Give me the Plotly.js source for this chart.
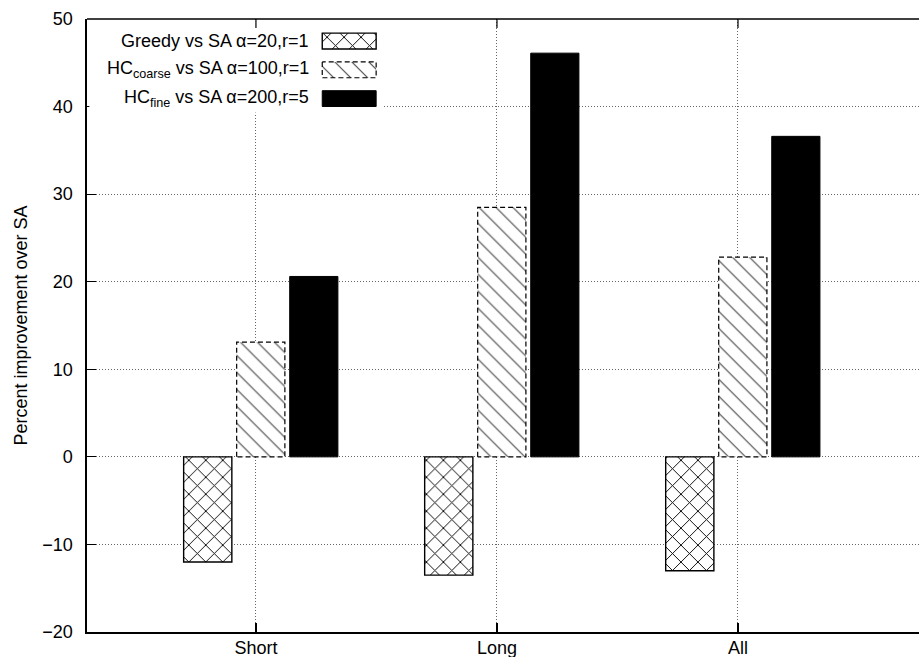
<!DOCTYPE html>
<html>
<head>
<meta charset="utf-8">
<script src="https://cdn.plot.ly/plotly-3.0.1.min.js"></script>
<style>html,body{margin:0;padding:0;background:#fff;overflow:hidden;}</style>
</head>
<body>
<div id="chart" style="width:919px;height:657px;"></div>
<script>
// ---- data ----
const categories = ["Short", "Long", "All"];
const greedyVals = [-12.0, -13.5, -13.0];
const coarseVals = [13.1, 28.5, 22.8];
const fineVals = [20.6, 46.1, 36.6];
const seriesNames = [
  "Greedy vs SA \u03b1=20,r=1",
  "HC<sub>coarse</sub> vs SA \u03b1=100,r=1",
  "HC<sub>fine</sub> vs SA \u03b1=200,r=5"
];
const yTicks = [-20, -10, 0, 10, 20, 30, 40, 50];

// ---- layout helpers ----
const FONT = {family: "Liberation Sans, Arial, sans-serif", size: 18, color: "#000"};
const BW = 0.2;
const offsets = [-0.2, 0.02, 0.24];
const idx = categories.map((c, i) => i);

function outline(xs, y0s, y1s, hw) {
  const X = [], Y = [];
  xs.forEach((x, i) => {
    X.push(x - hw, x - hw, x + hw, x + hw, x - hw, null);
    Y.push(y0s[i], y1s[i], y1s[i], y0s[i], y0s[i], null);
  });
  return {X, Y};
}

const xG = idx.map(i => i + offsets[0]);
const xC = idx.map(i => i + offsets[1]);
const xF = idx.map(i => i + offsets[2]);

const greedyMarker = {color: "#fff", line: {color: "#000", width: 1.4},
  pattern: {shape: "x", fgcolor: "#000", bgcolor: "#fff", size: 12, solidity: 0.15}};
const coarseMarker = {color: "#fff", line: {color: "#fff", width: 0},
  pattern: {shape: "\\", fgcolor: "#444", bgcolor: "#fff", size: 12, solidity: 0.09}};
const fineMarker = {color: "#000", line: {color: "#000", width: 1}};
const dashLine = {color: "#000", width: 1.2, dash: "5px,3px"};

const traces = [];
traces.push({type: "bar", x: xG, y: greedyVals, width: BW, marker: greedyMarker,
  hoverinfo: "skip", showlegend: false});
traces.push({type: "bar", x: xC, y: coarseVals, width: BW, marker: coarseMarker,
  hoverinfo: "skip", showlegend: false});
const oc = outline(xC, coarseVals.map(() => 0), coarseVals, BW / 2);
traces.push({type: "scatter", mode: "lines", x: oc.X, y: oc.Y, line: dashLine,
  hoverinfo: "skip", showlegend: false});
traces.push({type: "bar", x: xF, y: fineVals, width: BW, marker: fineMarker,
  hoverinfo: "skip", showlegend: false});

// ---- key (legend) drawn on its own small axes, over a white box ----
const legRows = [0, 1, 2];
const SW = 0.55;                  // swatch height (row units)
const SX0 = 0.7925, SX1 = 0.976;  // swatch span (key-box units)
const KEY_Y = [2.483, -0.724];    // key-box vertical extent (row units)
traces.push({type: "bar", orientation: "h", xaxis: "x3", yaxis: "y3",
  x: [1], base: 0, y: [(KEY_Y[0] + KEY_Y[1]) / 2], width: KEY_Y[0] - KEY_Y[1],
  marker: {color: "#fff", line: {width: 0}}, hoverinfo: "skip", showlegend: false});
const swMid = (SX0 + SX1) / 2, swHalf = (SX1 - SX0) / 2;
traces.push({type: "bar", orientation: "h", x: [SX1 - SX0], base: SX0, y: [legRows[0]], width: SW,
  xaxis: "x3", yaxis: "y3", marker: greedyMarker, hoverinfo: "skip", showlegend: false});
traces.push({type: "bar", orientation: "h", x: [SX1 - SX0], base: SX0, y: [legRows[1]], width: SW,
  xaxis: "x3", yaxis: "y3", marker: coarseMarker, hoverinfo: "skip", showlegend: false});
const ol = outline([swMid], [legRows[1] - SW / 2], [legRows[1] + SW / 2], swHalf);
traces.push({type: "scatter", mode: "lines", xaxis: "x3", yaxis: "y3", x: ol.X, y: ol.Y,
  line: dashLine, hoverinfo: "skip", showlegend: false});
traces.push({type: "bar", orientation: "h", x: [SX1 - SX0], base: SX0, y: [legRows[2]], width: SW,
  xaxis: "x3", yaxis: "y3", marker: fineMarker, hoverinfo: "skip", showlegend: false});

const keyLabels = legRows.map(r => ({
  xref: "x3", yref: "y3", x: SX0 - 0.04, y: r, xanchor: "right", yanchor: "middle",
  text: seriesNames[r], showarrow: false, font: FONT
}));

// mirrored top ticks at the category positions
const topTicks = idx.map(i => ({type: "line", xref: "x", yref: "y domain",
  x0: i, x1: i, y0: 1, y1: 1 - 9 / 612.7, line: {color: "#000", width: 1.2}}));

const GRID = {showgrid: true, gridcolor: "#666", griddash: "1px,2px", gridwidth: 1};

const layout = {
  width: 919, height: 657,
  margin: {l: 87, r: 0, t: 19, b: 25, pad: 0},
  paper_bgcolor: "#fff", plot_bgcolor: "#fff",
  font: FONT,
  showlegend: false,
  barmode: "overlay",
  xaxis: Object.assign({
    range: [-0.701, 2.751], tickvals: idx, ticktext: categories,
    ticks: "inside", ticklen: 9, tickcolor: "#000", tickwidth: 1.2,
    showline: true, linecolor: "#000", linewidth: 1.6,
    zeroline: false, automargin: false, ticklabelstandoff: -1,
    tickfont: FONT, fixedrange: true
  }, GRID),
  yaxis: Object.assign({
    range: [-20, 50], tickvals: yTicks,
    ticks: "inside", ticklen: 9, tickcolor: "#000", tickwidth: 1.2,
    showline: true, linecolor: "#000", linewidth: 1.6,
    zeroline: false, automargin: false, ticklabelstandoff: 9,
    tickfont: FONT, fixedrange: true,
    title: {text: "Percent improvement over SA", font: FONT, standoff: 10}
  }, GRID),
  xaxis3: {
    domain: [0.003, 0.356], range: [0, 1], anchor: "y3",
    visible: false, fixedrange: true
  },
  yaxis3: {
    domain: [0.8475, 0.998], range: KEY_Y, anchor: "x3",
    visible: false, fixedrange: true
  },
  annotations: keyLabels,
  shapes: [
    {type: "line", xref: "paper", yref: "paper", x0: 0, x1: 1, y0: 1, y1: 1,
      line: {color: "#000", width: 1.6}}
  ].concat(topTicks)
};

Plotly.newPlot("chart", traces, layout, {staticPlot: true, displayModeBar: false});
</script>
</body>
</html>
